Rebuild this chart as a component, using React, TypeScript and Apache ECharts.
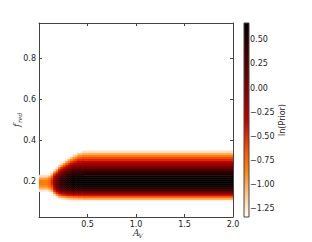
import React, { useEffect, useRef } from "react";
import * as echarts from "echarts";

// A_V bin edges (columns) and f_red lower bin edges (rows, bin width 0.01)
const avEdges = [0.0, 0.10, 0.125, 0.15, 0.175, 0.20, 0.225, 0.25, 0.275, 0.30, 0.325, 0.35, 0.375, 0.40, 0.45, 2.0];
const fredLow = [0.10, 0.11, 0.12, 0.13, 0.14, 0.15, 0.16, 0.17, 0.18, 0.19, 0.20, 0.21, 0.22, 0.23, 0.24, 0.25, 0.26, 0.27, 0.28, 0.29, 0.30, 0.31, 0.32, 0.33, 0.34];
const fredBin = 0.01;
const N = null;

// ln(Prior) per f_red row, one list per A_V column
const lnPrior_AV_0000_0100 = [N, N, N, N, N, -1.25, -1.05, -0.9, -0.82, -0.8, -0.82, -0.95, -1.2, N, N, N, N, N, N, N, N, N, N, N, N];
const lnPrior_AV_0100_0125 = [N, N, N, N, N, -1.15, -0.95, -0.8, -0.72, -0.7, -0.72, -0.82, -1.05, -1.3, N, N, N, N, N, N, N, N, N, N, N];
const lnPrior_AV_0125_0150 = [N, N, N, N, -1.3, -1.0, -0.75, -0.6, -0.5, -0.45, -0.47, -0.55, -0.75, -1.05, -1.3, N, N, N, N, N, N, N, N, N, N];
const lnPrior_AV_0150_0175 = [N, N, N, -1.2, -0.85, -0.5, -0.3, -0.17, -0.1, -0.07, -0.09, -0.16, -0.3, -0.55, -0.9, -1.25, N, N, N, N, N, N, N, N, N];
const lnPrior_AV_0175_0200 = [N, N, -1.25, -0.9, -0.5, -0.2, -0.02, 0.08, 0.14, 0.16, 0.14, 0.08, -0.05, -0.25, -0.55, -0.9, -1.25, N, N, N, N, N, N, N, N];
const lnPrior_AV_0200_0225 = [N, -1.3, -1.0, -0.6, -0.25, 0.0, 0.15, 0.26, 0.32, 0.34, 0.32, 0.26, 0.15, 0.0, -0.2, -0.45, -0.8, -1.15, N, N, N, N, N, N, N];
const lnPrior_AV_0225_0250 = [N, -1.25, -0.95, -0.5, -0.15, 0.1, 0.25, 0.35, 0.41, 0.43, 0.42, 0.37, 0.28, 0.14, -0.03, -0.25, -0.5, -0.85, -1.2, N, N, N, N, N, N];
const lnPrior_AV_0250_0275 = [N, -1.2, -0.88, -0.43, -0.08, 0.17, 0.32, 0.42, 0.48, 0.5, 0.49, 0.45, 0.37, 0.25, 0.1, -0.1, -0.32, -0.58, -0.9, -1.25, N, N, N, N, N];
const lnPrior_AV_0275_0300 = [-1.32, -1.15, -0.82, -0.38, -0.03, 0.21, 0.36, 0.46, 0.52, 0.55, 0.55, 0.51, 0.44, 0.34, 0.2, 0.03, -0.17, -0.4, -0.66, -0.95, -1.25, N, N, N, N];
const lnPrior_AV_0300_0325 = [-1.3, -1.1, -0.77, -0.35, 0.0, 0.24, 0.39, 0.49, 0.56, 0.59, 0.59, 0.56, 0.5, 0.41, 0.29, 0.14, -0.04, -0.24, -0.46, -0.72, -1.0, -1.28, N, N, N];
const lnPrior_AV_0325_0350 = [-1.3, -1.08, -0.73, -0.33, 0.01, 0.26, 0.41, 0.51, 0.58, 0.61, 0.61, 0.59, 0.53, 0.45, 0.34, 0.21, 0.05, -0.14, -0.34, -0.57, -0.83, -1.1, -1.32, N, N];
const lnPrior_AV_0350_0375 = [-1.3, -1.05, -0.7, -0.32, 0.02, 0.28, 0.43, 0.53, 0.6, 0.63, 0.64, 0.61, 0.56, 0.48, 0.38, 0.25, 0.1, -0.07, -0.25, -0.45, -0.67, -0.92, -1.18, N, N];
const lnPrior_AV_0375_0400 = [-1.3, -1.04, -0.69, -0.31, 0.03, 0.28, 0.43, 0.54, 0.6, 0.64, 0.65, 0.63, 0.58, 0.5, 0.4, 0.28, 0.13, -0.03, -0.2, -0.38, -0.58, -0.8, -1.05, -1.3, N];
const lnPrior_AV_0400_0450 = [-1.3, -1.02, -0.67, -0.3, 0.04, 0.29, 0.44, 0.54, 0.61, 0.65, 0.66, 0.64, 0.59, 0.51, 0.41, 0.29, 0.14, -0.01, -0.16, -0.32, -0.48, -0.65, -0.86, -1.1, -1.32];
const lnPrior_AV_0450_2000 = [-1.3, -1.0, -0.65, -0.3, 0.05, 0.3, 0.45, 0.55, 0.62, 0.66, 0.67, 0.65, 0.6, 0.52, 0.42, 0.3, 0.15, 0.0, -0.15, -0.3, -0.45, -0.6, -0.8, -1.0, -1.22];

const columns = [
  lnPrior_AV_0000_0100, lnPrior_AV_0100_0125, lnPrior_AV_0125_0150, lnPrior_AV_0150_0175,
  lnPrior_AV_0175_0200, lnPrior_AV_0200_0225, lnPrior_AV_0225_0250, lnPrior_AV_0250_0275,
  lnPrior_AV_0275_0300, lnPrior_AV_0300_0325, lnPrior_AV_0325_0350, lnPrior_AV_0350_0375,
  lnPrior_AV_0375_0400, lnPrior_AV_0400_0450, lnPrior_AV_0450_2000,
];

const xTicks = [0.5, 1.0, 1.5, 2.0];
const yTicks = [0.2, 0.4, 0.6, 0.8];
const cbTicks = [-1.25, -1.0, -0.75, -0.5, -0.25, 0.0, 0.25, 0.5];
const vMin = -1.333;
const vMax = 0.672;

// matplotlib gist_heat_r
function gistHeatR(t: number): string {
  const x = 1 - t;
  const c = (v: number) => Math.round(Math.max(0, Math.min(1, v)) * 255);
  return `rgb(${c(1.5 * x)},${c(2 * x - 1)},${c(4 * x - 3)})`;
}
const cmapColors: string[] = [];
for (let i = 0; i <= 40; i++) cmapColors.push(gistHeatR(i / 40));

const G = { left: 39, top: 23, width: 194, height: 194 };
const CB = { left: 244, top: 23, width: 5, height: 194 };
const FONT = "DejaVu Sans";

export default function App() {
  const ref = useRef<HTMLDivElement>(null);
  useEffect(() => {
    if (!ref.current) return;
    const chart = echarts.init(ref.current, undefined, { renderer: "svg" });

    const data: any[] = [];
    columns.forEach((col, ci) => {
      col.forEach((v, ri) => {
        if (v === null) return;
        data.push([avEdges[ci], avEdges[ci + 1], fredLow[ri], fredLow[ri] + fredBin, v]);
      });
    });

    const axisLine = { show: true, onZero: false, lineStyle: { color: "#444", width: 1 } };
    const tick = { show: true, inside: true, length: 3, lineStyle: { color: "#444", width: 1 } };
    const lbl = { fontSize: 8, color: "#222", fontFamily: FONT };

    const stops = [];
    for (let i = 0; i <= 20; i++) stops.push({ offset: i / 20, color: gistHeatR(i / 20) });

    chart.setOption({
      animation: false,
      backgroundColor: "#fff",
      grid: [
        { left: G.left, top: G.top, width: G.width, height: G.height },
        { left: CB.left, top: CB.top, width: CB.width, height: CB.height },
      ],
      visualMap: {
        show: false,
        type: "continuous",
        seriesIndex: 0,
        dimension: 4,
        min: vMin,
        max: vMax,
        inRange: { color: cmapColors },
      },
      xAxis: [
        {
          type: "value", gridIndex: 0, position: "bottom", min: 0, max: 2.0,
          axisLine, axisTick: { ...tick, customValues: xTicks },
          axisLabel: { ...lbl, margin: 3, customValues: xTicks, formatter: (v: number) => v.toFixed(1) },
          splitLine: { show: false },
        },
        {
          type: "value", gridIndex: 0, position: "top", min: 0, max: 2.0,
          axisLine, axisTick: { ...tick, customValues: xTicks },
          axisLabel: { show: false }, splitLine: { show: false },
        },
        { type: "value", gridIndex: 1, min: 0, max: 1, show: false },
      ],
      yAxis: [
        {
          type: "value", gridIndex: 0, position: "left", min: 0.025, max: 0.975,
          axisLine, axisTick: { ...tick, customValues: yTicks },
          axisLabel: { ...lbl, margin: 3, customValues: yTicks, formatter: (v: number) => v.toFixed(1) },
          splitLine: { show: false },
        },
        {
          type: "value", gridIndex: 0, position: "right", min: 0.025, max: 0.975,
          axisLine, axisTick: { ...tick, customValues: yTicks },
          axisLabel: { show: false }, splitLine: { show: false },
        },
        {
          type: "value", gridIndex: 1, position: "right", min: vMin, max: vMax,
          axisLine: { show: false }, axisTick: { show: false }, splitLine: { show: false },
          axisLabel: {
            ...lbl, margin: 1, customValues: cbTicks,
            formatter: (v: number) => (v < 0 ? "\u2212" : "") + Math.abs(v).toFixed(2),
          },
          name: "ln(Prior)", nameLocation: "middle", nameRotate: 90, nameGap: 29,
          nameTextStyle: { fontSize: 8, color: "#222", fontFamily: FONT },
        },
      ],
      series: [
        {
          type: "custom",
          xAxisIndex: 0,
          yAxisIndex: 0,
          clip: true,
          encode: { x: [0, 1], y: [2, 3] },
          data,
          renderItem: (params: any, api: any) => {
            const p0 = api.coord([api.value(0), api.value(3)]);
            const p1 = api.coord([api.value(1), api.value(2)]);
            const color = api.visual("color");
            return {
              type: "rect",
              shape: { x: p0[0], y: p0[1], width: p1[0] - p0[0], height: p1[1] - p0[1] },
              style: { fill: color, stroke: color, lineWidth: 0.6 },
            };
          },
        },
      ],
      graphic: [
        {
          type: "rect",
          shape: { x: CB.left, y: CB.top, width: CB.width, height: CB.height },
          style: {
            fill: { type: "linear", x: 0, y: 1, x2: 0, y2: 0, colorStops: stops },
            stroke: "#444",
            lineWidth: 1,
          },
          z: 10,
        },
        {
          type: "text", x: 133, y: 233,
          style: { text: "A", font: "italic 9px 'DejaVu Serif'", fill: "#333", verticalAlign: "middle", align: "left" },
        },
        {
          type: "text", x: 138.5, y: 235.5,
          style: { text: "V", font: "italic 6px 'DejaVu Serif'", fill: "#333", verticalAlign: "middle", align: "left" },
        },
        {
          type: "group", x: 17, y: 121, rotation: Math.PI / 2,
          children: [
            {
              type: "text", x: -6, y: 0,
              style: { text: "f", font: "italic 9px 'DejaVu Serif'", fill: "#333", verticalAlign: "middle", align: "left" },
            },
            {
              type: "text", x: -2, y: 2.5,
              style: { text: "red", font: "italic 6px 'DejaVu Serif'", fill: "#333", verticalAlign: "middle", align: "left" },
            },
          ],
        },
      ],
    });
    return () => chart.dispose();
  }, []);
  return <div ref={ref} style={{ position: "fixed", left: 0, top: 0, width: 312, height: 242 }} />;
}
